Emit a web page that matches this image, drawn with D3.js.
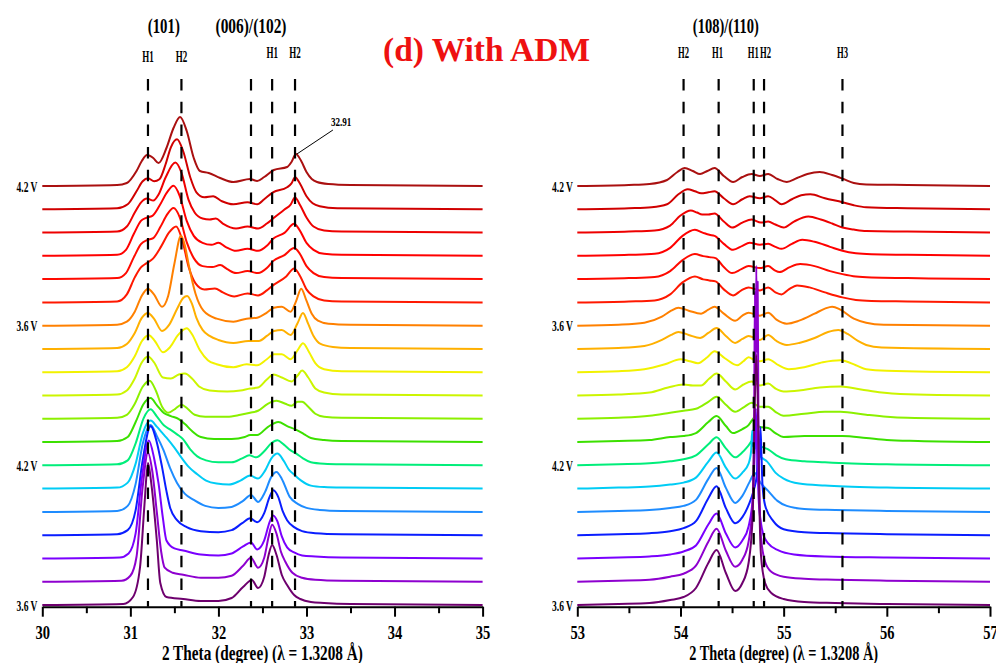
<!DOCTYPE html>
<html><head><meta charset="utf-8">
<script src="https://cdn.jsdelivr.net/npm/d3@7"></script>
<style>body{margin:0;background:#fff}svg{display:block}text{font-family:"Liberation Serif","Times New Roman",serif;font-weight:bold}</style>
</head><body>
<svg id="c" width="996" height="663"></svg>
<script>
// ---------- DATA ----------
const traceColors = ["#AA1010","#D00000","#EE0000","#FF0000","#FF0A00","#FF1800","#FF8000","#FFB000","#F2F200","#CCF500","#8CF000","#3CE000","#00EE7A","#00CCF5","#1E8CFF","#0A1EFF","#7A00FF","#8E00CF","#6E006E"];
const voltageLabels = [{i:0,t:"4.2 V"},{i:6,t:"3.6 V"},{i:12,t:"4.2 V"},{i:18,t:"3.6 V"}];
const leftTicks = [30,31,32,33,34,35];
const leftMinor = [30.5,31.5,32.5,33.5,34.5];
const rightTicks = [53,54,55,56,57];
const rightMinor = [53.5,54.5,55.5,56.5];
const leftRefLines = [31.2,31.58,32.37,32.61,32.87];
const rightRefLines = [54.03,54.37,54.71,54.81,55.57];
const leftPeakLabels = [{x:31.2,t:"H1",row:0},{x:31.58,t:"H2",row:0},{x:32.61,t:"H1",row:1},{x:32.87,t:"H2",row:1}];
const rightPeakLabels = [{x:54.03,t:"H2"},{x:54.36,t:"H1"},{x:54.705,t:"H1"},{x:54.825,t:"H2"},{x:55.57,t:"H3"}];
const leftGroups = [{x:31.38,t:"(101)",w:32},{x:32.37,t:"(006)/(102)",w:71}];
const rightGroups = [{x:54.44,t:"(108)/(110)",w:66}];
const annotation = {x:32.88,h:32,t:"32.91"};

// intensity (a.u.) vs 2-theta, one list per scan, top (index 0) to bottom (index 18)
const leftPatterns = [
 [[30,0],[30.85,1],[30.96,3],[31.07,15],[31.13,25],[31.19,31],[31.26,28],[31.32,23],[31.41,38],[31.49,58],[31.565,69],[31.64,55],[31.72,28],[31.79,15],[31.89,13],[32.02,8],[32.17,4],[32.36,7],[32.44,5],[32.52,9],[32.63,16],[32.78,19],[32.83,24],[32.88,32],[32.94,25],[33.0,14],[33.06,7],[33.12,4],[33.25,2],[33.5,1],[35,0]],
 [[30,0],[30.85,1],[30.97,5],[31.07,18],[31.14,28],[31.2,31],[31.27,28],[31.33,30],[31.4,45],[31.46,62],[31.53,70],[31.6,58],[31.68,32],[31.75,17],[31.84,12],[31.94,13],[32.04,8],[32.17,5],[32.33,7],[32.44,5],[32.52,10],[32.62,17],[32.78,22],[32.83,26],[32.87,32],[32.93,25],[33.0,13],[33.07,6],[33.15,3],[33.35,1],[35,0]],
 [[30,0],[30.85,1],[30.96,6],[31.05,20],[31.12,30],[31.19,34],[31.26,32],[31.32,38],[31.4,55],[31.51,70],[31.58,60],[31.66,33],[31.73,20],[31.82,14],[31.9,13],[31.97,14],[32.05,9],[32.2,4],[32.33,6],[32.45,4],[32.55,9],[32.62,14],[32.75,23],[32.82,28],[32.87,35],[32.93,27],[33.0,15],[33.08,6],[33.2,2],[33.4,1],[35,0]],
 [[30,0],[30.85,1],[30.95,6],[31.04,22],[31.12,35],[31.18,38],[31.25,40],[31.33,50],[31.42,64],[31.49,70],[31.56,60],[31.64,35],[31.72,20],[31.82,13],[31.92,11],[32.0,13],[32.08,9],[32.2,5],[32.33,7],[32.45,5],[32.55,10],[32.62,17],[32.75,23],[32.86,32],[32.92,26],[33.0,13],[33.08,6],[33.2,2],[33.4,1],[35,0]],
 [[30,0],[30.85,1],[30.95,6],[31.04,22],[31.12,35],[31.19,39],[31.26,41],[31.34,52],[31.42,65],[31.49,71],[31.56,62],[31.64,37],[31.72,21],[31.82,13],[31.93,12],[32.02,14],[32.1,10],[32.2,6],[32.33,8],[32.45,6],[32.55,11],[32.62,18],[32.75,24],[32.86,31],[32.92,26],[33.0,13],[33.08,6],[33.2,2],[33.4,1],[35,0]],
 [[30,0],[30.85,1],[30.96,8],[31.05,25],[31.12,35],[31.18,39],[31.26,44],[31.35,56],[31.44,70],[31.52,76],[31.59,62],[31.66,36],[31.74,19],[31.84,13],[31.96,14],[32.05,10],[32.18,6],[32.33,9],[32.45,7],[32.55,12],[32.62,17],[32.77,26],[32.86,34],[32.93,26],[33.0,13],[33.08,6],[33.2,2],[33.4,1],[35,0]],
 [[30,0],[30.85,1],[30.96,4],[31.05,14],[31.13,30],[31.2,37],[31.27,31],[31.36,19],[31.43,30],[31.5,62],[31.575,90],[31.62,80],[31.66,62],[31.74,32],[31.83,15],[31.98,7],[32.17,4],[32.32,7],[32.44,8],[32.55,13],[32.63,18],[32.72,19],[32.82,14],[32.88,24],[32.94,37],[33.0,25],[33.06,12],[33.13,5],[33.25,2],[33.5,1],[35,0]],
 [[30,0],[30.85,1],[30.96,5],[31.05,16],[31.13,31],[31.2,36],[31.27,30],[31.36,18],[31.44,24],[31.53,40],[31.6,51],[31.645,53],[31.7,45],[31.75,31],[31.82,19],[31.9,13],[32.0,9],[32.17,6],[32.34,8],[32.46,8],[32.55,13],[32.63,18],[32.72,19],[32.82,14],[32.9,26],[32.96,36],[33.02,25],[33.08,13],[33.16,5],[33.3,2],[33.5,1],[35,0]],
 [[30,0],[30.85,1],[30.96,5],[31.05,16],[31.13,31],[31.21,37],[31.28,31],[31.37,20],[31.45,25],[31.54,37],[31.64,44],[31.7,38],[31.79,22],[31.88,12],[31.98,8],[32.17,5],[32.32,8],[32.44,7],[32.55,13],[32.63,18],[32.72,18],[32.82,13],[32.9,22],[32.96,29],[33.03,20],[33.1,9],[33.2,3],[33.4,1],[35,0]],
 [[30,0],[30.85,1],[30.96,5],[31.05,17],[31.13,33],[31.2,39],[31.27,33],[31.37,18],[31.46,17],[31.55,21],[31.62,22],[31.7,17],[31.78,9],[31.9,5],[32.1,4],[32.25,5],[32.36,7],[32.45,8],[32.55,16],[32.625,21],[32.72,18],[32.83,14],[32.9,20],[32.95,25],[33.02,18],[33.1,7],[33.2,3],[33.4,1],[35,0]],
 [[30,0],[30.85,1],[30.96,4],[31.05,15],[31.14,32],[31.22,38],[31.29,28],[31.36,12],[31.43,6],[31.51,10],[31.58,14],[31.65,10],[31.73,4],[31.85,2],[32.1,2],[32.25,4],[32.36,6],[32.45,8],[32.56,15],[32.66,18],[32.76,15],[32.83,13],[32.9,17],[32.95,17],[33.02,12],[33.1,5],[33.2,2],[33.4,1],[35,0]],
 [[30,0],[30.85,1],[30.97,5],[31.06,20],[31.15,38],[31.23,44],[31.3,37],[31.38,29],[31.46,26],[31.55,23],[31.62,18],[31.7,11],[31.8,5],[31.95,3],[32.15,3],[32.3,5],[32.36,7],[32.44,7],[32.56,15],[32.68,20],[32.78,16],[32.89,12],[32.97,8],[33.05,4],[33.2,2],[33.4,1],[35,0]],
 [[30,0],[30.85,1],[30.97,5],[31.06,22],[31.15,47],[31.23,56],[31.3,49],[31.38,40],[31.45,36],[31.53,31],[31.6,26],[31.68,16],[31.76,9],[31.86,5],[32.0,3],[32.15,3],[32.27,7],[32.35,10],[32.43,8],[32.52,14],[32.6,22],[32.67,25],[32.74,21],[32.82,15],[32.88,12],[32.96,7],[33.05,3],[33.2,1.5],[33.4,1],[35,0]],
 [[30,0],[30.85,1],[30.97,6],[31.06,25],[31.14,55],[31.23,68],[31.3,62],[31.36,56],[31.41,51],[31.5,41],[31.58,31],[31.66,22],[31.75,15],[31.86,8],[31.98,5],[32.12,4],[32.25,8],[32.36,13],[32.45,10],[32.53,18],[32.6,30],[32.67,35],[32.74,28],[32.8,19],[32.86,14],[32.94,8],[33.05,3],[33.2,1.5],[33.4,1],[35,0]],
 [[30,0],[30.85,1],[30.97,6],[31.06,28],[31.14,68],[31.23,87],[31.3,76],[31.375,62],[31.45,44],[31.53,29],[31.62,18],[31.72,12],[31.85,6],[32.0,4],[32.15,5],[32.28,11],[32.37,17],[32.45,10],[32.53,20],[32.6,35],[32.66,40],[32.72,33],[32.81,15],[32.9,8],[33.0,4],[33.15,2],[33.4,1],[35,0]],
 [[30,0],[30.85,1],[30.97,5],[31.06,25],[31.14,75],[31.23,109],[31.3,93],[31.36,68],[31.41,44],[31.45,28],[31.53,15],[31.64,8],[31.8,4],[32.0,3],[32.15,5],[32.27,12],[32.36,17],[32.44,13],[32.52,22],[32.58,38],[32.625,45],[32.68,38],[32.73,24],[32.78,15],[32.86,8],[32.95,4],[33.1,2],[33.4,1],[35,0]],
 [[30,0],[30.88,1],[30.98,5],[31.06,25],[31.13,80],[31.21,118],[31.27,100],[31.32,75],[31.37,40],[31.41,18],[31.5,10],[31.6,8],[31.8,4],[32.0,3],[32.15,5],[32.28,12],[32.37,16],[32.44,9],[32.52,18],[32.58,36],[32.62,43],[32.67,37],[32.72,22],[32.78,11],[32.86,6],[32.95,3],[33.1,2],[33.4,1],[35,0]],
 [[30,0],[30.9,1],[31.0,6],[31.07,25],[31.14,95],[31.2,129],[31.25,110],[31.3,70],[31.35,30],[31.39,14],[31.48,9],[31.6,7],[31.8,4],[32.0,4],[32.15,6],[32.28,16],[32.37,24],[32.45,14],[32.52,24],[32.57,45],[32.61,57],[32.66,48],[32.71,30],[32.76,20],[32.84,9],[32.95,4],[33.1,2],[33.4,1],[35,0]],
 [[30,0],[30.92,1],[31.03,8],[31.11,38],[31.16,100],[31.2,142],[31.24,120],[31.3,65],[31.34,22],[31.41,8],[31.6,6],[31.8,4],[32.0,4],[32.15,7],[32.28,18],[32.38,25],[32.45,17],[32.52,28],[32.57,50],[32.61,60],[32.66,50],[32.72,30],[32.78,20],[32.86,10],[32.93,6],[33.05,3],[33.2,2],[33.5,1],[35,0]]
];
const rightPatterns = [
 [[53,0],[53.5,1],[53.7,2],[53.87,6],[53.97,14],[54.04,18],[54.12,15],[54.19,12],[54.26,15],[54.33,18],[54.42,10],[54.51,4],[54.6,9],[54.69,12],[54.77,10],[54.85,12],[54.94,7],[55.03,4],[55.13,8],[55.23,12],[55.35,14],[55.47,11],[55.58,7],[55.68,3],[55.8,1.5],[56.2,1],[57,0]],
 [[53,0],[53.5,1],[53.72,2],[53.87,5],[53.98,15],[54.07,20],[54.14,18],[54.2,16],[54.27,17],[54.33,18],[54.42,11],[54.51,5],[54.6,10],[54.67,13],[54.77,11],[54.85,13],[54.92,9],[54.98,5],[55.08,10],[55.17,14],[55.26,15],[55.4,11],[55.57,7],[55.68,4],[55.8,2],[56.2,1],[57,0]],
 [[53,0],[53.5,1],[53.75,2],[53.9,7],[54.0,17],[54.1,22],[54.16,20],[54.21,18],[54.27,18],[54.33,19],[54.42,11],[54.5,5],[54.6,10],[54.69,13],[54.78,10],[54.85,11],[54.92,8],[55.0,5],[55.1,11],[55.24,16],[55.36,13],[55.47,9],[55.57,5],[55.68,3],[55.8,1.5],[56.2,1],[57,0]],
 [[53,0],[53.5,1],[53.75,2],[53.9,8],[54.02,20],[54.14,26],[54.22,23],[54.28,21],[54.33,20],[54.42,12],[54.51,6],[54.6,10],[54.67,13],[54.77,11],[54.85,12],[54.92,9],[54.98,7],[55.08,12],[55.18,16],[55.3,14],[55.45,9],[55.57,5],[55.7,2.5],[55.85,1.5],[56.2,1],[57,0]],
 [[53,0],[53.5,1],[53.75,2],[53.9,8],[54.02,19],[54.14,25],[54.22,23],[54.28,22],[54.34,21],[54.42,12],[54.5,6],[54.59,10],[54.66,13],[54.77,11],[54.85,13],[54.91,9],[54.96,7],[55.06,12],[55.16,15],[55.3,13],[55.45,8],[55.57,5],[55.7,2.5],[55.85,1.5],[56.2,1],[57,0]],
 [[53,0],[53.5,1],[53.75,2],[53.9,8],[54.02,20],[54.14,26],[54.22,23],[54.28,22],[54.34,21],[54.42,13],[54.51,7],[54.59,12],[54.66,15],[54.77,12],[54.85,15],[54.92,10],[54.98,8],[55.05,13],[55.13,17],[55.25,15],[55.4,10],[55.57,5],[55.7,2.5],[55.85,1.5],[56.2,1],[57,0]],
 [[53,0],[53.4,1],[53.65,3],[53.82,9],[53.91,15],[53.98,18],[54.08,15],[54.2,12],[54.27,16],[54.33,19],[54.42,12],[54.53,5],[54.6,10],[54.66,13],[54.77,10],[54.85,13],[54.93,6],[55.03,2],[55.15,5],[55.3,12],[55.4,17],[55.47,19],[55.55,16],[55.68,7],[55.8,3],[55.97,1],[57,0]],
 [[53,0],[53.4,1],[53.65,3],[53.82,9],[53.91,14],[53.98,17],[54.08,14],[54.19,11],[54.27,16],[54.35,21],[54.44,13],[54.53,6],[54.6,10],[54.66,13],[54.77,9],[54.85,14],[54.93,8],[55.03,4],[55.15,6],[55.3,11],[55.43,17],[55.53,19],[55.62,15],[55.72,8],[55.8,4],[55.95,1.5],[57,0]],
 [[53,0],[53.4,1],[53.65,3],[53.85,8],[54.0,13],[54.09,11],[54.17,9],[54.26,15],[54.33,21],[54.43,14],[54.55,7],[54.61,11],[54.66,15],[54.72,12],[54.77,11],[54.85,13],[54.95,7],[55.05,3],[55.2,5],[55.38,10],[55.55,12],[55.7,7],[55.8,3],[56.0,1.5],[57,0]],
 [[53,0],[53.4,1],[53.7,3],[53.88,8],[54.03,11],[54.12,10],[54.2,10],[54.28,17],[54.35,22],[54.44,14],[54.53,6],[54.61,11],[54.69,14],[54.77,10],[54.85,12],[54.92,7],[55.0,4],[55.15,5],[55.35,8],[55.55,9],[55.75,6],[55.95,3],[56.13,1.5],[57,0]],
 [[53,0],[53.4,1],[53.7,3],[53.9,6],[54.03,8],[54.15,10],[54.27,17],[54.35,22],[54.44,14],[54.53,7],[54.62,12],[54.69,16],[54.77,12],[54.85,12],[54.92,7],[55.0,3],[55.2,5],[55.4,7],[55.55,7],[55.8,4],[56.0,2],[56.2,1],[57,0]],
 [[53,0],[53.4,1],[53.7,2],[53.9,5],[54.03,6],[54.15,9],[54.27,20],[54.35,26],[54.44,16],[54.51,9],[54.6,13],[54.66,17],[54.695,22],[54.71,24],[54.725,20],[54.77,15],[54.85,14],[54.92,9],[55.0,5],[55.2,6],[55.4,6],[55.57,6],[55.8,4],[56.0,2],[56.3,1],[57,0]],
 [[53,0],[53.4,1],[53.7,2],[53.9,4],[54.03,6],[54.15,10],[54.27,21],[54.35,28],[54.44,17],[54.53,8],[54.6,13],[54.66,20],[54.71,26],[54.76,20],[54.85,16],[54.93,10],[55.02,6],[55.2,4],[55.4,3],[55.6,2],[56.0,1],[57,0]],
 [[53,0],[53.4,1],[53.7,2],[53.9,4],[54.03,6],[54.15,11],[54.27,27],[54.35,36],[54.44,21],[54.53,10],[54.6,16],[54.66,25],[54.685,38],[54.695,58],[54.705,42],[54.715,61],[54.725,40],[54.735,55],[54.75,34],[54.8,30],[54.84,27],[54.92,16],[55.0,10],[55.15,5],[55.4,3],[55.6,2],[56.0,1],[57,0]],
 [[53,0],[53.4,1],[53.7,2],[53.9,4],[54.03,6],[54.15,12],[54.27,33],[54.35,44],[54.44,24],[54.53,9],[54.6,16],[54.67,30],[54.72,39],[54.77,30],[54.85,21],[54.94,11],[55.03,6],[55.2,3],[55.5,2],[56.0,1],[57,0]],
 [[53,0],[53.4,1],[53.7,2],[53.9,4],[54.03,7],[54.15,14],[54.27,37],[54.35,49],[54.44,27],[54.53,12],[54.6,18],[54.66,30],[54.71,45],[54.74,60],[54.755,95],[54.765,75],[54.775,108],[54.785,80],[54.795,50],[54.82,30],[54.9,14],[55.0,6],[55.2,3],[55.5,2],[56.0,1],[57,0]],
 [[53,0],[53.4,1],[53.7,2],[53.9,4],[54.03,7],[54.15,13],[54.27,34],[54.35,45],[54.44,25],[54.53,11],[54.6,18],[54.66,32],[54.7,60],[54.72,110],[54.73,150],[54.745,100],[54.76,55],[54.8,25],[54.85,15],[54.95,8],[55.1,4],[55.4,2],[56.0,1],[57,0]],
 [[53,0],[53.4,1],[53.7,2],[53.9,5],[54.03,8],[54.15,16],[54.27,40],[54.35,53],[54.44,31],[54.53,15],[54.6,22],[54.66,40],[54.7,80],[54.715,180],[54.722,290],[54.728,200],[54.735,316],[54.742,230],[54.748,300],[54.755,170],[54.765,90],[54.78,45],[54.82,20],[54.88,10],[55.0,5],[55.2,3],[55.5,2],[56.0,1],[57,0]],
 [[53,0],[53.4,1],[53.7,2],[53.9,5],[54.03,8],[54.15,17],[54.27,42],[54.35,55],[54.44,32],[54.53,14],[54.6,22],[54.66,42],[54.7,90],[54.72,200],[54.735,250],[54.75,200],[54.765,100],[54.78,50],[54.82,22],[54.88,12],[55.0,6],[55.2,3],[55.5,2],[56.0,1],[57,0]]
];

// ---------- DRAW ----------
const svg = d3.select("#c");
const nScans = leftPatterns.length;
const OFFSET = 23.28;                       // vertical offset between scans (a.u.)
const y = d3.scaleLinear().domain([0, (nScans-1)*OFFSET]).range([605, 186]);
const axisY = 606.7;

const panels = [
  {x: d3.scaleLinear().domain([30,35]).range([42.3,482.6]), data: leftPatterns, ticks: leftTicks, minor: leftMinor, refs: leftRefLines, labX: 37.5, titleW: 201},
  {x: d3.scaleLinear().domain([53,57]).range([577.3,990]), data: rightPatterns, ticks: rightTicks, minor: rightMinor, refs: rightRefLines, labX: 573, titleW: 189}
];

panels.forEach(p => {
  const g = svg.append("g");
  const line = d3.line()
    .x(d => p.x(d[0]))
    .curve(d3.curveMonotoneX);
  p.data.forEach((pts, i) => {
    const off = (nScans-1-i)*OFFSET;
    line.y(d => y(d[1] + off));
    g.append("path").attr("d", line(pts))
      .attr("fill","none").attr("stroke", traceColors[i])
      .attr("stroke-width", 2).attr("stroke-linejoin","round");
  });
  // reference dashed lines
  g.selectAll("line.ref").data(p.refs).join("line")
    .attr("x1", d=>p.x(d)).attr("x2", d=>p.x(d))
    .attr("y1", 79).attr("y2", axisY)
    .attr("stroke","#000").attr("stroke-width",2.2)
    .attr("stroke-dasharray","11.5 11.2");
  // axis
  const ax = svg.append("g").attr("transform",`translate(0,${axisY})`)
    .call(d3.axisBottom(p.x).tickValues(p.ticks).tickSize(10).tickSizeOuter(0).tickFormat(d3.format("d")));
  ax.select(".domain").attr("stroke-width",2);
  ax.selectAll(".tick line").attr("stroke-width",2);
  ax.selectAll(".tick text").attr("y",32).attr("dy",0)
    .attr("font-family","Liberation Serif").attr("font-weight","bold").attr("font-size",18.5)
    .attr("textLength",14.5).attr("lengthAdjust","spacingAndGlyphs").attr("fill","#000");
  const axm = svg.append("g").attr("transform",`translate(0,${axisY})`)
    .call(d3.axisBottom(p.x).tickValues(p.minor).tickSize(6.5).tickSizeOuter(0).tickFormat(""));
  axm.select(".domain").remove();
  axm.selectAll(".tick line").attr("stroke-width",2);
  // axis title
  const cx = (p.x.range()[0]+p.x.range()[1])/2;
  svg.append("text").attr("x",cx).attr("y",659.5).attr("text-anchor","middle")
    .attr("font-size",21).attr("textLength",p.titleW).attr("lengthAdjust","spacingAndGlyphs")
    .text("2 Theta (degree) (λ = 1.3208 Å)");
  // voltage labels
  voltageLabels.forEach(v => {
    svg.append("text").attr("x",p.labX).attr("y", y((nScans-1-v.i)*OFFSET)+5.5)
      .attr("text-anchor","end").attr("font-size",14.5)
      .attr("textLength",21).attr("lengthAdjust","spacingAndGlyphs").text(v.t);
  });
});

const xL = panels[0].x, xR = panels[1].x;
// peak group labels
leftGroups.forEach(d => svg.append("text").attr("x", xL(d.x)).attr("y",33).attr("text-anchor","middle")
  .attr("font-size",21).attr("textLength",d.w).attr("lengthAdjust","spacingAndGlyphs").text(d.t));
rightGroups.forEach(d => svg.append("text").attr("x", xR(d.x)).attr("y",33).attr("text-anchor","middle")
  .attr("font-size",21).attr("textLength",d.w).attr("lengthAdjust","spacingAndGlyphs").text(d.t));
leftPeakLabels.forEach(d => svg.append("text").attr("x", xL(d.x)).attr("y", d.row ? 57.5 : 61.5).attr("text-anchor","middle")
  .attr("font-size",17).attr("textLength",11.5).attr("lengthAdjust","spacingAndGlyphs").text(d.t));
rightPeakLabels.forEach(d => svg.append("text").attr("x", xR(d.x)).attr("y",57.5).attr("text-anchor","middle")
  .attr("font-size",17).attr("textLength",11).attr("lengthAdjust","spacingAndGlyphs").text(d.t));

// annotation
const ax0 = xL(annotation.x), ay0 = y((nScans-1)*OFFSET + annotation.h);
svg.append("line").attr("x1",ax0+1).attr("y1",ay0).attr("x2",ax0+37).attr("y2",ay0-24)
  .attr("stroke","#000").attr("stroke-width",1);
svg.append("text").attr("x",ax0+35).attr("y",ay0-28).attr("font-size",13)
  .attr("textLength",20.5).attr("lengthAdjust","spacingAndGlyphs").text(annotation.t);

// title
svg.append("text").attr("x",486.5).attr("y",61).attr("text-anchor","middle")
  .attr("font-size",33).attr("fill","#EE1111").attr("textLength",207).attr("lengthAdjust","spacingAndGlyphs")
  .text("(d) With ADM");
</script>
</body></html>
